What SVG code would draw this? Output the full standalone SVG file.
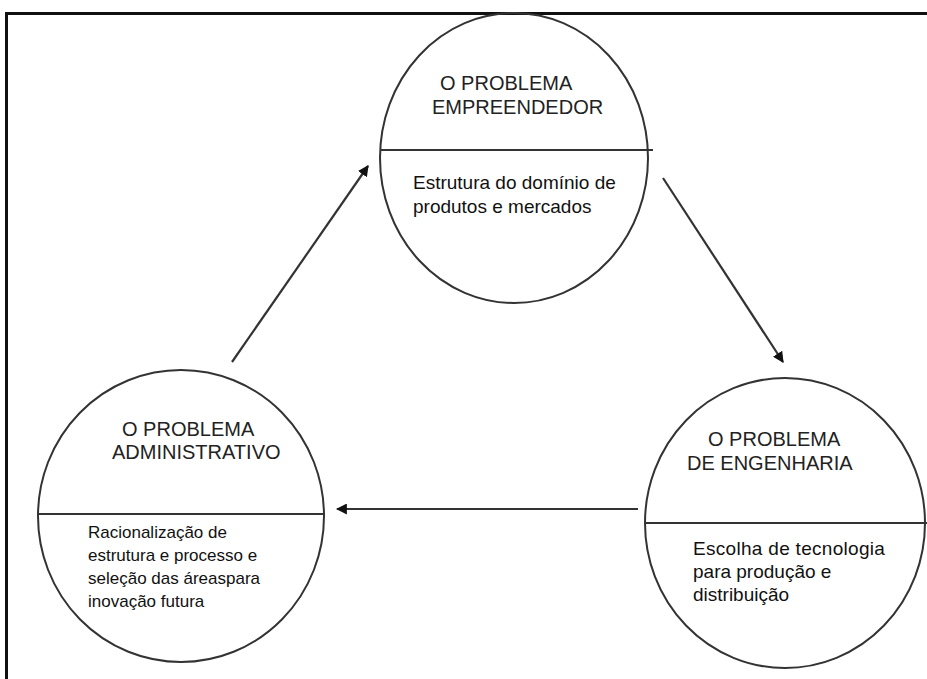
<svg xmlns="http://www.w3.org/2000/svg" width="927" height="679" viewBox="0 0 927 679">
<defs>
<style>
.frame{stroke:#111;stroke-width:3;fill:none}
.node{fill:none;stroke:#333;stroke-width:2}
.div{stroke:#333;stroke-width:2}
.title{font-family:"Liberation Sans",Arial,sans-serif;font-size:20px;fill:#222}
.body{font-family:"Liberation Sans",Arial,sans-serif;font-size:19px;fill:#111}
.small{font-size:17px}
.conn{stroke:#333;stroke-width:2.2;fill:none;marker-end:url(#arr)}
</style>
<marker id="arr" viewBox="0 0 10 10" refX="9" refY="5" markerWidth="5" markerHeight="5" orient="auto" markerUnits="strokeWidth">
<path d="M0,0 L10,5 L0,10 z" fill="#111"/>
</marker>
</defs>
<rect width="927" height="679" fill="#fff"/>
<g id="frame">
<line class="frame" x1="5" y1="13.5" x2="927" y2="13.5"/>
<line class="frame" x1="6.5" y1="12" x2="6.5" y2="679"/>
</g>
<g id="node-empreendedor">
<ellipse class="node" cx="514" cy="158" rx="134" ry="145"/>
<line class="div" x1="380" y1="150" x2="653" y2="150"/>
<text class="title" x="440" y="90">O PROBLEMA</text>
<text class="title" x="432" y="114">EMPREENDEDOR</text>
<text class="body" x="413" y="189">Estrutura do domínio de</text>
<text class="body" x="413" y="213">produtos e mercados</text>
</g>
<g id="node-administrativo">
<ellipse class="node" cx="181" cy="516" rx="143" ry="146"/>
<line class="div" x1="38" y1="514" x2="325" y2="514"/>
<text class="title" x="122" y="436">O PROBLEMA</text>
<text class="title" x="112" y="459">ADMINISTRATIVO</text>
<text class="body small" x="88" y="538">Racionalização de</text>
<text class="body small" x="88" y="561">estrutura e processo e</text>
<text class="body small" x="88" y="584">seleção das áreaspara</text>
<text class="body small" x="88" y="607">inovação futura</text>
</g>
<g id="node-engenharia">
<ellipse class="node" cx="785" cy="523" rx="140" ry="145"/>
<line class="div" x1="645" y1="523" x2="927" y2="523"/>
<text class="title" x="708" y="446">O PROBLEMA</text>
<text class="title" x="687" y="470">DE ENGENHARIA</text>
<text class="body" x="693" y="555" letter-spacing="0.3">Escolha de tecnologia</text>
<text class="body" x="693" y="578">para produção e</text>
<text class="body" x="693" y="601">distribuição</text>
</g>
<g id="connectors">
<line class="conn" x1="232" y1="362" x2="368" y2="166"/>
<line class="conn" x1="663" y1="178" x2="783" y2="362"/>
<line class="conn" x1="638" y1="509" x2="337" y2="509"/>
</g>
</svg>
